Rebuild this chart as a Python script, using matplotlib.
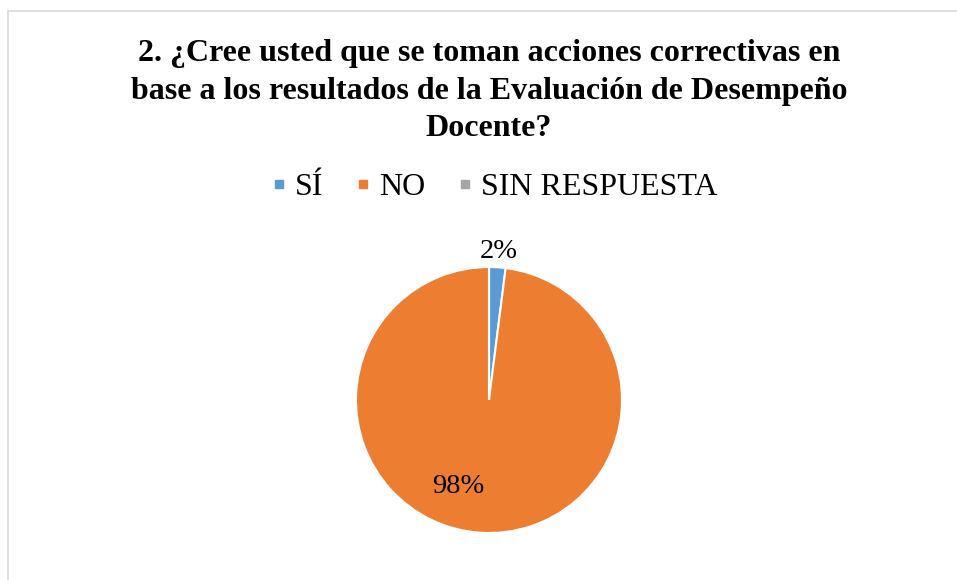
import numpy as np
import matplotlib.pyplot as plt
from matplotlib.lines import Line2D
from matplotlib.patches import Rectangle

plt.rcParams['font.family'] = ['Liberation Serif', 'DejaVu Serif']

# datos
categorias = ['SÍ', 'NO', 'SIN RESPUESTA']
valores = [2, 98, 0]
colores = ['#5B9BD5', '#ED7D31', '#A5A5A5']
titulo = ('2. ¿Cree usted que se toman acciones correctivas en\n'
          'base a los resultados de la Evaluación de Desempeño\n'
          'Docente?')

W, H = 957, 580
fig = plt.figure(figsize=(W / 100, H / 100), dpi=100)

# marco gris del gráfico
fig.add_artist(Rectangle((8 / W, -0.1), 1.2, 1 - 11 / H + 0.1,
                         transform=fig.transFigure, fill=False,
                         edgecolor='#D9D9D9', linewidth=1.2))

# pie
cx, cy, r = 489, 400, 133
ax = fig.add_axes([(cx - r) / W, (H - cy - r) / H, 2 * r / W, 2 * r / H])
wedges, _ = ax.pie(valores, colors=colores, startangle=90, counterclock=False,
                   radius=1, wedgeprops=dict(edgecolor='white', linewidth=1.5))
ax.set_xlim(-1, 1)
ax.set_ylim(-1, 1)
ax.set_aspect('equal')
ax.axis('off')

# etiquetas de porcentaje
total = sum(valores)
for w, v in zip(wedges, valores):
    if v == 0:
        continue
    pct = '%d%%' % round(100 * v / total)
    if v / total < 0.1:
        ang = np.deg2rad((w.theta1 + w.theta2) / 2)
        ax.text(1.12 * np.cos(ang), 1.12 * np.sin(ang), pct, ha='center',
                va='center', fontsize=20.5)
    else:
        ax.text(-0.23, -0.65, pct, ha='center', va='center', fontsize=20.5)

# titulo
fig.text(0.511, 1 - 91 / H, titulo, ha='center', va='center',
         fontsize=23, fontweight='bold', linespacing=1.38)

# leyenda
handles = [Line2D([], [], marker='s', linestyle='None', markersize=6,
                  color=c) for c in colores]
fig.legend(handles, categorias, loc='center', ncol=3, frameon=False,
           bbox_to_anchor=(494 / W, 1 - 187 / H), fontsize=23,
           handlelength=0.5, handletextpad=0.25, columnspacing=1.0)

fig.savefig('out.png', dpi=100)
